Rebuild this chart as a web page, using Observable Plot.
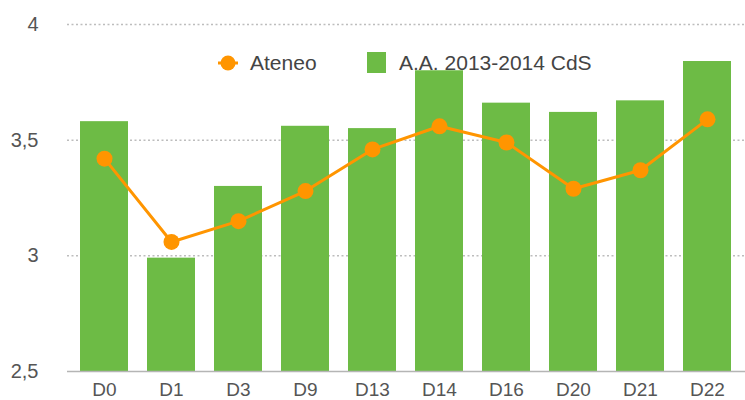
<!DOCTYPE html>
<html>
<head>
<meta charset="utf-8">
<script src="https://cdn.jsdelivr.net/npm/d3@7"></script>
<script src="https://cdn.jsdelivr.net/npm/@observablehq/plot@0.6"></script>
<style>
  html, body { margin: 0; padding: 0; background: #fff; }
  #wrap { position: relative; width: 745px; height: 400px; font-family: "Liberation Sans", Arial, sans-serif; }
  #legend { position: absolute; left: 0; top: 0; width: 745px; height: 0; font-size: 21px; color: #444; }
  .li { position: absolute; top: 52px; height: 22px; line-height: 22px; white-space: nowrap; }
</style>
</head>
<body>
<div id="wrap">
  <div id="chart"></div>
  <div id="legend"></div>
</div>
<script>
const categories = ["D0", "D1", "D3", "D9", "D13", "D14", "D16", "D20", "D21", "D22"];
const cdsValues = [3.58, 2.99, 3.30, 3.56, 3.55, 3.80, 3.66, 3.62, 3.67, 3.84];
const ateneoValues = [3.42, 3.06, 3.15, 3.28, 3.46, 3.56, 3.49, 3.29, 3.37, 3.59];
const yTicks = [2.5, 3, 3.5, 4];
const seriesNames = ["Ateneo", "A.A. 2013-2014 CdS"];

const green = "#6dbb45";
const orange = "#ff9500";

const data = categories.map((c, i) => ({cat: c, cds: cdsValues[i], ateneo: ateneoValues[i]}));

const chart = Plot.plot({
  width: 745,
  height: 400,
  marginTop: 24,
  marginBottom: 29,
  marginLeft: 67,
  marginRight: 0,
  style: {fontFamily: "Liberation Sans, Arial, sans-serif", background: "#fff", fontSize: "20px", overflow: "visible"},
  x: {domain: categories, paddingInner: 0.28, paddingOuter: 0.14, label: null},
  y: {domain: [2.5, 4], label: null},
  marks: [
    Plot.ruleY(yTicks.filter(d => d > 2.5), {stroke: "#bdbdbd", strokeWidth: 1.5, strokeDasharray: "2,2.5"}),
    Plot.barY(data, {x: "cat", y1: 2.5, y2: "cds", fill: green}),
    Plot.ruleY([2.5], {stroke: "#b5b5b5", strokeWidth: 1.5}),
    Plot.line(data, {x: "cat", y: "ateneo", stroke: orange, strokeWidth: 3}),
    Plot.dot(data, {x: "cat", y: "ateneo", r: 8, fill: orange}),
    Plot.axisY(yTicks, {tickSize: 0, tickPadding: 29, fontSize: 20, fill: "#555", tickFormat: d => String(d).replace(".", ",")}),
    Plot.axisX({tickSize: 0, tickPadding: 11, fontSize: 19, fill: "#555"})
  ]
});
document.getElementById("chart").appendChild(chart);

const legend = document.getElementById("legend");
legend.innerHTML = `
  <div class="li" style="left:217px;">
    <svg width="22" height="22" style="position:absolute;left:0;top:0"><line x1="1" y1="11" x2="21" y2="11" stroke="${orange}" stroke-width="3"/><circle cx="11" cy="11" r="7.5" fill="${orange}"/></svg>
    <span style="position:absolute;left:33px;">${seriesNames[0]}</span>
  </div>
  <div class="li" style="left:367px;">
    <span style="position:absolute;left:0;top:0;width:19px;height:21px;background:${green}"></span>
    <span style="position:absolute;left:32px;">${seriesNames[1]}</span>
  </div>`;
</script>
</body>
</html>
